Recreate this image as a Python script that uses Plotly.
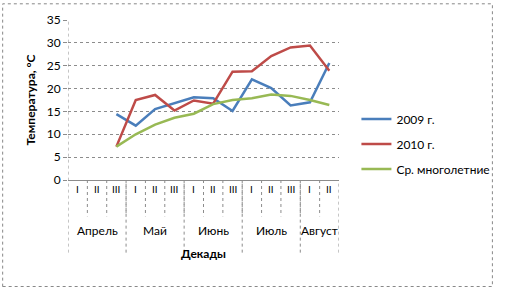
import plotly.graph_objects as go

months = ["Апрель", "Май", "Июнь", "Июль", "Август"]
decades_per_month = [["I", "II", "III"], ["I", "II", "III"], ["I", "II", "III"], ["I", "II", "III"], ["I", "II"]]
categories = [f"{m} {d}" for m, ds in zip(months, decades_per_month) for d in ds]
decade_labels = [d for ds in decades_per_month for d in ds]

t2009 = [None, None, 14.4, 11.9, 15.5, 16.8, 18.1, 17.9, 15.1, 22.0, 20.1, 16.3, 17.0, 25.6]
t2010 = [None, None, 7.3, 17.5, 18.6, 15.2, 17.4, 16.7, 23.7, 23.8, 27.1, 29.0, 29.4, 23.9]
tmean = [None, None, 7.3, 10.0, 12.1, 13.6, 14.5, 16.6, 17.5, 17.9, 18.7, 18.4, 17.5, 16.4]

series = [("2009 г.", t2009, "#4A7EBB"), ("2010 г.", t2010, "#BE4B48"), ("Ср. многолетние", tmean, "#98B954")]

W, H = 507, 289
ML, MR, MT, MB = 68, 159, 17, 109
PW, PH = W - ML - MR, H - MT - MB

def py(pix):
    return (H - MB - pix) / PH

def px(pix):
    return (pix - ML) / PW

FONT = "Lato"
GRID = "#8c8c8c"

fig = go.Figure()
for i, (name, vals, col) in enumerate(series):
    fig.add_trace(go.Scatter(x=categories, y=vals, mode="lines", name=name,
                             line=dict(color=col, width=2.5), legendgroup=str(i)))

shapes = []
# decade separators
n = len(categories)
for i in range(n - 1):
    shapes.append(dict(type="line", xref="x", yref="paper", x0=i + 0.5, x1=i + 0.5,
                       y0=0, y1=py(217), line=dict(color=GRID, width=1, dash="dot")))
# month separators
b = -0.5
bounds = [b]
for ds in decades_per_month:
    b += len(ds)
    bounds.append(b)
for j, bx in enumerate(bounds):
    shapes.append(dict(type="line", xref="x", yref="paper", x0=bx, x1=bx,
                       y0=py(254), y1=1 if j == 0 else 0, line=dict(color=GRID, width=1, dash="dot")))
# outer border
shapes.append(dict(type="rect", xref="paper", yref="paper", x0=px(0.5), x1=px(W - 0.5),
                   y0=py(H - 0.5), y1=py(0.5), line=dict(color="#888", width=1, dash="dot")))

annotations = []
for i, lab in enumerate(decade_labels):
    annotations.append(dict(x=i, y=py(197), xref="x", yref="paper", text=lab, showarrow=False,
                            font=dict(family=FONT, size=10, color="#000")))
for j, m in enumerate(months):
    annotations.append(dict(x=(bounds[j] + bounds[j + 1]) / 2, y=py(241), xref="x", yref="paper",
                            text=m, showarrow=False, font=dict(family=FONT, size=12, color="#000")))
annotations.append(dict(x=0.5, y=py(265), xref="paper", yref="paper", text="<b>Декады</b>",
                        showarrow=False, font=dict(family=FONT, size=12, color="#000")))

fig.update_layout(
    width=W, height=H,
    margin=dict(l=ML, r=MR, t=MT, b=MB),
    paper_bgcolor="white", plot_bgcolor="white",
    font=dict(family=FONT, size=12, color="#000"),
    shapes=shapes, annotations=annotations,
    showlegend=True,
    legend=dict(x=px(366), y=py(103), xanchor="left", yanchor="top",
                font=dict(family=FONT, size=12), tracegroupgap=6, itemwidth=30,
                bgcolor="rgba(0,0,0,0)"),
    xaxis=dict(type="category", categoryorder="array", categoryarray=categories,
               range=[-0.5, n - 0.5], showticklabels=False, showgrid=False, zeroline=False,
               showline=True, linecolor=GRID, linewidth=1, ticks=""),
    yaxis=dict(range=[0, 35], dtick=5, showgrid=True, gridcolor=GRID, griddash="dot", gridwidth=1,
               zeroline=False, showline=False, ticks="outside", ticklen=4, tickcolor=GRID,
               tickfont=dict(family=FONT, size=12),
               title=dict(text="<b>Температура, °С</b>", font=dict(family=FONT, size=12), standoff=8)),
)

fig.write_html("out.html")
